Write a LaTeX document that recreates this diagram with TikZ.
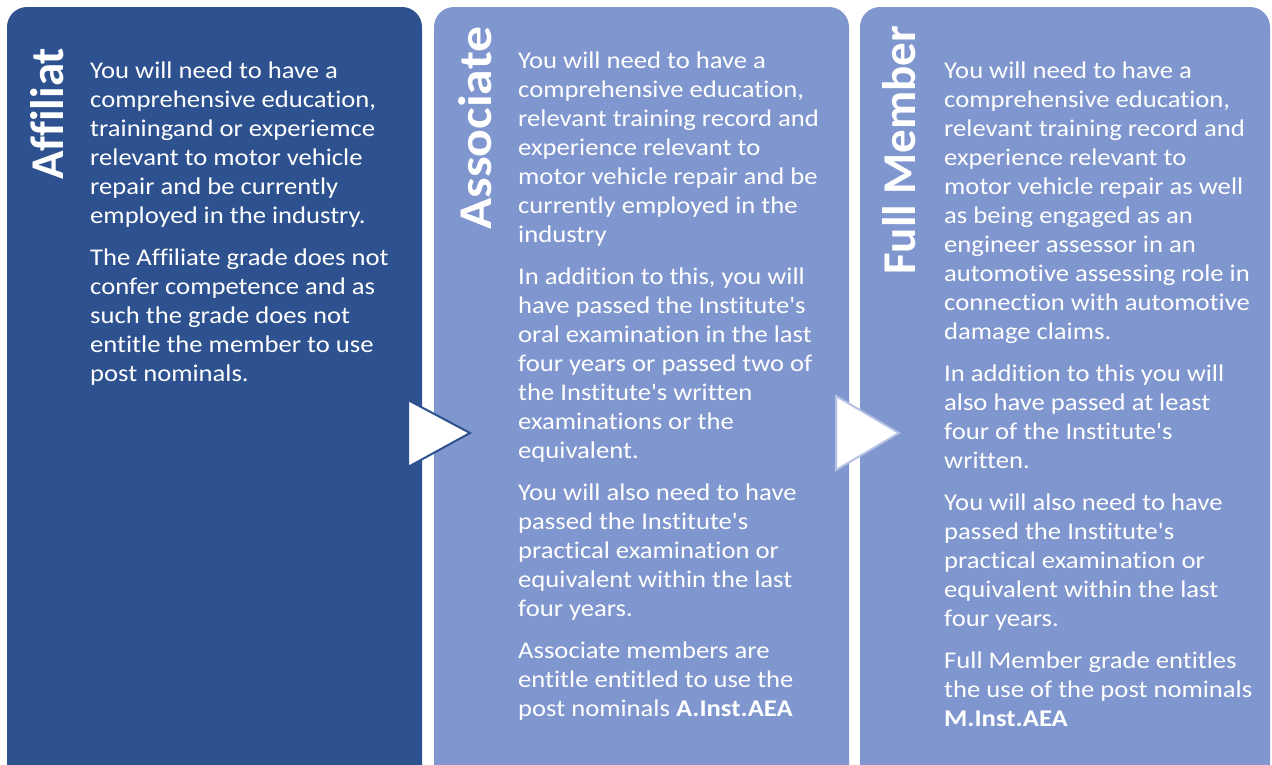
\documentclass[tikz,border=0pt]{standalone}
\usepackage{fontspec}
\setmainfont{Carlito}[Ligatures=NoCommon]
\newfontfamily\BodyFont{Carlito}[FakeStretch=1.11, Ligatures=NoCommon]
\usepackage{xcolor}
\usepackage{tikz}

\definecolor{DarkPanel}{RGB}{46,81,143}
\definecolor{LightPanel}{RGB}{127,150,206}
\definecolor{ArrowRim}{RGB}{180,193,228}

\begin{document}
\begin{tikzpicture}[x=1pt, y=-1pt]
      \useasboundingbox (0,0) rectangle (1272,764);
      \clip (0,0) rectangle (1272,764);
      \tikzstyle{PanelStyle} = [rounded corners=20pt]
      \tikzstyle{TitleStyle} = [text=white, inner sep=0pt, rotate=90, anchor=base west,
                                font=\fontsize{47}{50}\selectfont\bfseries]
      \tikzstyle{TextStyle} = [text=white, inner sep=0pt, anchor=north west, align=left,
                               font=\BodyFont\fontsize{24}{29}\selectfont]
      \tikzstyle{ArrowStyle} = [fill=white, line width=2pt, line join=miter]
      \fill[PanelStyle, DarkPanel] (7,7) rectangle (422,785);
      \fill[PanelStyle, LightPanel] (434,7) rectangle (849,785);
      \fill[PanelStyle, LightPanel] (860,7) rectangle (1270,785);
      \filldraw[ArrowStyle, draw=DarkPanel] (408,400) -- (470,433) -- (408,467) -- cycle;
      \filldraw[ArrowStyle, draw=ArrowRim] (836,396) -- (899,433) -- (836,470) -- cycle;
      \node[TitleStyle] (affTitle) at (63,180) {Affiliat};
      \node[TitleStyle, xscale=1.1] (assTitle) at (491,230) {Associate};
      \node[TitleStyle] (fullTitle) at (915,275) {Full Member};
      \node[TextStyle] (affText) at (90,58) {\rule{0pt}{20pt}You will need to have a\\
        comprehensive education,\\
        trainingand or experiemce\\
        relevant to motor vehicle\\
        repair and be currently\\
        employed in the industry.\\[13pt]
        The Affiliate grade does not\\
        confer competence and as\\
        such the grade does not\\
        entitle the member to use\\
        post nominals.};
      \node[TextStyle] (assText) at (518,48) {\rule{0pt}{20pt}You will need to have a\\
        comprehensive education,\\
        relevant training record and\\
        experience relevant to\\
        motor vehicle repair and be\\
        currently employed in the\\
        industry\\[13pt]
        In addition to this, you will\\
        have passed the Institute's\\
        oral examination in the last\\
        four years or passed two of\\
        the Institute's written\\
        examinations or the\\
        equivalent.\\[13pt]
        You will also need to have\\
        passed the Institute's\\
        practical examination or\\
        equivalent within the last\\
        four years.\\[13pt]
        Associate members are\\
        entitle entitled to use the\\
        post nominals \textbf{A.Inst.AEA}};
      \node[TextStyle] (fullText) at (944,58) {\rule{0pt}{20pt}You will need to have a\\
        comprehensive education,\\
        relevant training record and\\
        experience relevant to\\
        motor vehicle repair as well\\
        as being engaged as an\\
        engineer assessor in an\\
        automotive assessing role in\\
        connection with automotive\\
        damage claims.\\[13pt]
        In addition to this you will\\
        also have passed at least\\
        four of the Institute's\\
        written.\\[13pt]
        You will also need to have\\
        passed the Institute's\\
        practical examination or\\
        equivalent within the last\\
        four years.\\[13pt]
        Full Member grade entitles\\
        the use of the post nominals\\
        \textbf{M.Inst.AEA}};
\end{tikzpicture}
\end{document}
